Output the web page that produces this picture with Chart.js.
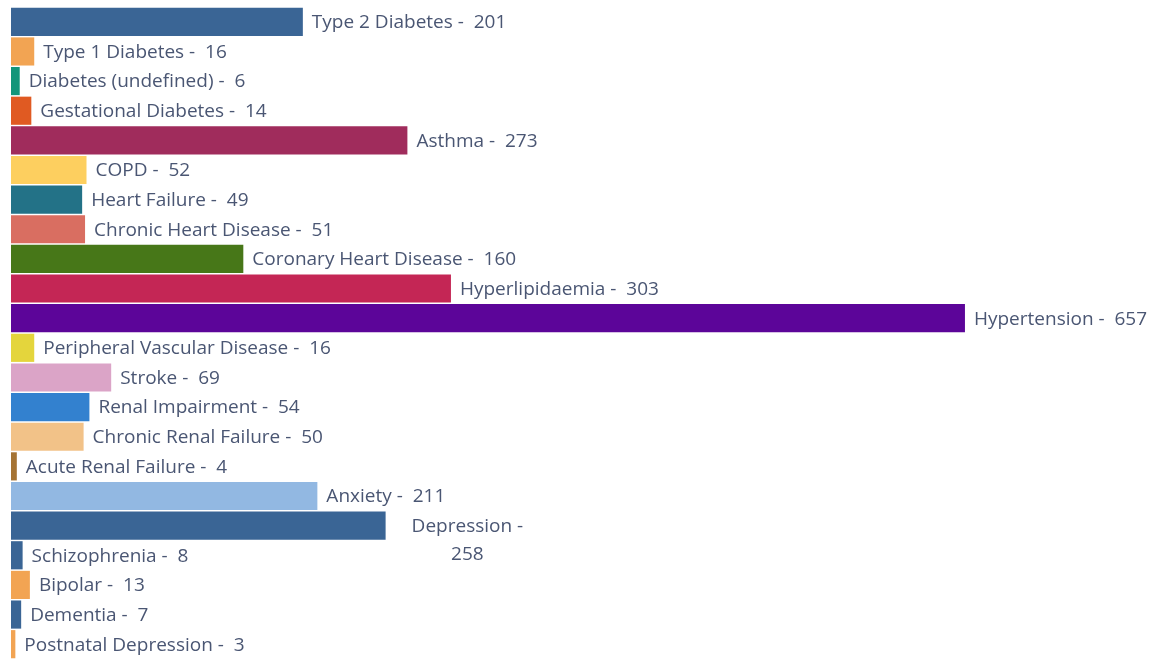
<!DOCTYPE html>
<html>
<head>
<meta charset="utf-8">
<script src="https://cdn.jsdelivr.net/npm/chart.js@4.4.0/dist/chart.umd.min.js"></script>
<style>
  html, body { margin: 0; padding: 0; background: #fff; }
  #wrap { width: 1155px; height: 659px; }
</style>
</head>
<body>
<div id="wrap"><canvas id="grafico"></canvas></div>
<script>
// CONDITIONS
const condicoes = [
    'Type 2 Diabetes', 'Type 1 Diabetes', 'Diabetes (undefined)', 'Gestational Diabetes',
    'Asthma', 'COPD', 'Heart Failure', 'Chronic Heart Disease', 'Coronary Heart Disease',
    'Hyperlipidaemia', 'Hypertension', 'Peripheral Vascular Disease', 'Stroke',
    'Renal Impairment', 'Chronic Renal Failure', 'Acute Renal Failure', 'Anxiety',
    'Depression', 'Schizophrenia', 'Bipolar', 'Dementia', 'Postnatal Depression'
]
const pacientes = [201, 16, 6, 14, 273, 52, 49, 51, 160, 303, 657, 16, 69, 54, 50, 4, 211, 258, 8, 13, 7, 3]
const cores = [
    '#3a6595', '#f2a453', '#12957a', '#e05a22',
    '#a02c5c', '#fdcf5f', '#237287', '#d96e61', '#477718',
    '#c42655', '#5c0599', '#e4d53c', '#dba4c7',
    '#3381cf', '#f2c288', '#a57333', '#92b8e2',
    '#3a6595', '#3a6595', '#f2a453', '#3a6595', '#f2a453'
]
// labels that the original wraps onto two lines
const quebrados = ['Depression']

const fonte = '19px "Open Sans", "Noto Sans", sans-serif'

// draws "Name -  value" at the end of each bar
const rotulos = {
    id: 'rotulos',
    afterDatasetsDraw(chart) {
        const ctx = chart.ctx
        const meta = chart.getDatasetMeta(0)
        ctx.save()
        ctx.font = fonte
        ctx.fillStyle = '#4a5673'
        ctx.textBaseline = 'middle'
        meta.data.forEach((barra, i) => {
            const nome = condicoes[i]
            const valor = pacientes[i]
            const x = barra.x + 9
            if (quebrados.includes(nome)) {
                const l1 = nome + ' -'
                const l2 = String(valor)
                const cx = x + 17 + ctx.measureText(l1).width / 2
                ctx.textAlign = 'center'
                ctx.fillText(l1, cx, barra.y + 1)
                ctx.fillText(l2, cx, barra.y + 29)
            } else {
                ctx.textAlign = 'left'
                ctx.fillText(nome + ' -  ' + valor, x, barra.y + 1)
            }
        })
        ctx.restore()
    }
}

new Chart(document.getElementById('grafico').getContext('2d'), {
    type: 'bar',
    data: {
        labels: condicoes,
        datasets: [{
            data: pacientes,
            backgroundColor: cores,
            borderWidth: 0,
            barPercentage: 0.95,
            categoryPercentage: 1
        }]
    },
    options: {
        indexAxis: 'y',
        responsive: true,
        maintainAspectRatio: false,
        animation: false,
        layout: { padding: { left: 11, right: 10, top: 7, bottom: 0 } },
        scales: {
            x: { display: false, min: 0, max: 781 },
            y: { display: false }
        },
        plugins: {
            legend: { display: false },
            tooltip: { enabled: false }
        }
    },
    plugins: [rotulos]
})
</script>
</body>
</html>
